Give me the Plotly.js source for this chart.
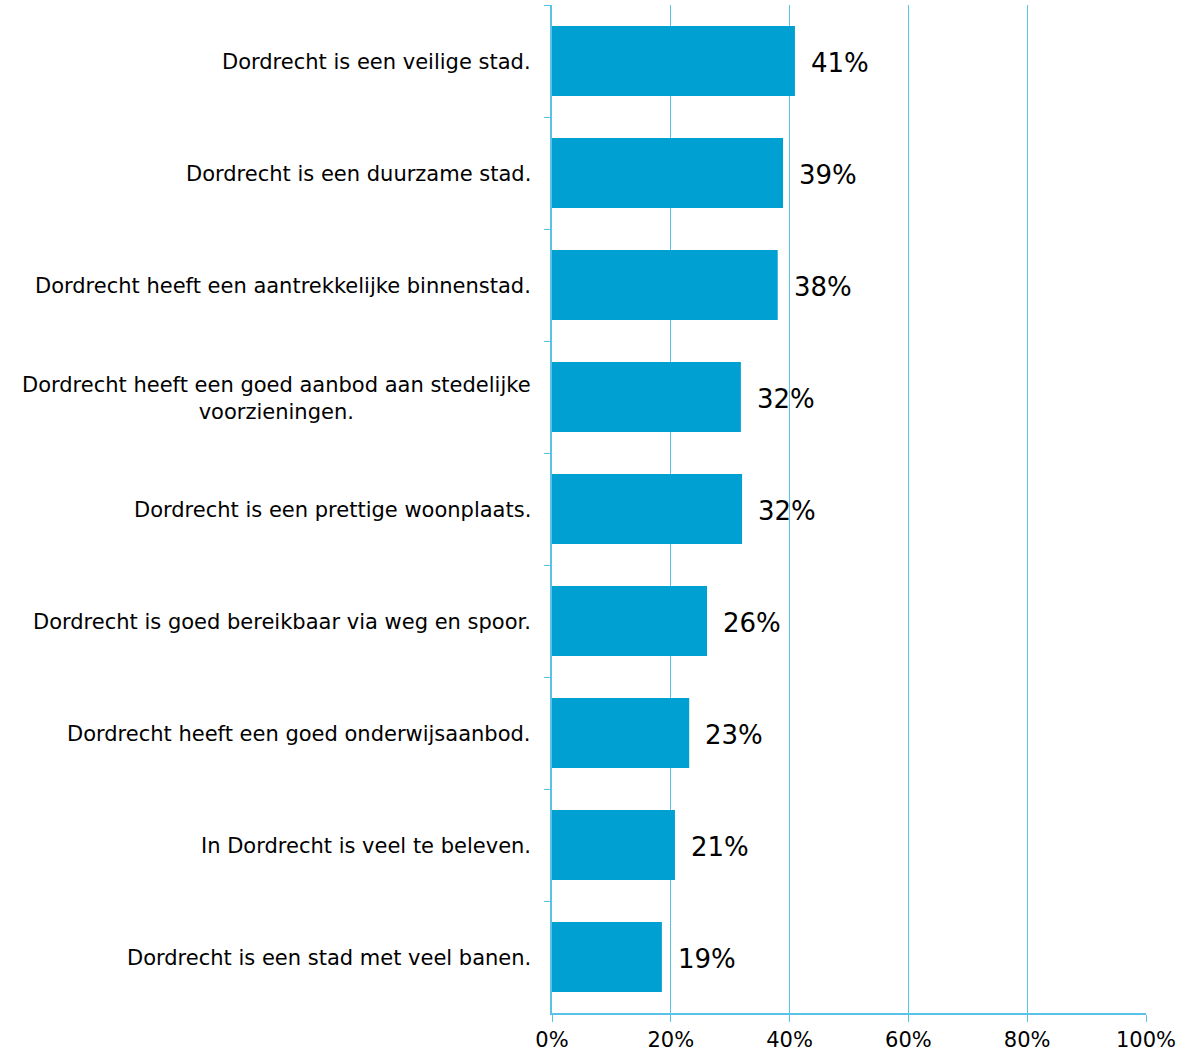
<!DOCTYPE html>
<html>
<head>
<meta charset="utf-8">
<script src="https://cdn.plot.ly/plotly-3.0.1.min.js"></script>
<style>
html,body{margin:0;padding:0;background:#fff;}
#chart{width:1196px;height:1054px;}
</style>
</head>
<body>
<div id="chart"></div>
<script>
const categories = [
  "Dordrecht is een veilige stad.",
  "Dordrecht is een duurzame stad.",
  "Dordrecht heeft een aantrekkelijke binnenstad.",
  "Dordrecht heeft een goed aanbod aan stedelijke<br>voorzieningen.",
  "Dordrecht is een prettige woonplaats.",
  "Dordrecht is goed bereikbaar via weg en spoor.",
  "Dordrecht heeft een goed onderwijsaanbod.",
  "In Dordrecht is veel te beleven.",
  "Dordrecht is een stad met veel banen."
];
const values = [40.9, 38.9, 38.0, 31.8, 32.0, 26.1, 23.1, 20.7, 18.5];
const valueLabels = ["41%", "39%", "38%", "32%", "32%", "26%", "23%", "21%", "19%"];
const xTickVals = [0, 20, 40, 60, 80, 100];
const xTickText = ["0%", "20%", "40%", "60%", "80%", "100%"];

const FONT = "DejaVu Sans, Verdana, sans-serif";
const BLUE_LINE = "#5BC2E7";

const trace = {
  type: "bar",
  orientation: "h",
  x: values,
  y: categories,
  marker: {color: "#00A1D2", line: {width: 0}},
  hoverinfo: "skip"
};

const annotations = [];
categories.forEach((c, i) => {
  annotations.push({
    x: 0, xref: "paper", y: c, yref: "y",
    xanchor: "right", yanchor: "middle", xshift: -19, yshift: -1,
    text: c, showarrow: false, align: "center",
    font: {family: FONT, size: 21, color: "#000"}
  });
  annotations.push({
    x: values[i], xref: "x", y: c, yref: "y",
    xanchor: "left", yanchor: "middle", xshift: 14, yshift: -2,
    text: valueLabels[i], showarrow: false,
    font: {family: FONT, size: 26, color: "#000"}
  });
});

const layout = {
  width: 1196, height: 1054,
  margin: {l: 552, r: 50, t: 5, b: 41, pad: 0},
  paper_bgcolor: "#fff", plot_bgcolor: "#fff",
  showlegend: false,
  bargap: 0.375,
  font: {family: FONT, color: "#000"},
  xaxis: {
    range: [0, 100], tickvals: xTickVals, ticktext: xTickText,
    showgrid: true, gridcolor: BLUE_LINE, gridwidth: 1,
    showline: true, linecolor: BLUE_LINE, linewidth: 2,
    ticks: "outside", ticklen: 7, tickcolor: BLUE_LINE, tickwidth: 1,
    tickfont: {family: FONT, size: 21, color: "#000"},
    zeroline: false, fixedrange: true
  },
  yaxis: {
    type: "category", autorange: "reversed",
    showticklabels: false, tickson: "boundaries",
    ticks: "outside", ticklen: 6, tickcolor: BLUE_LINE, tickwidth: 1,
    showline: true, linecolor: BLUE_LINE, linewidth: 2,
    showgrid: false, zeroline: false, fixedrange: true
  },
  annotations: annotations
};

Plotly.newPlot("chart", [trace], layout, {displayModeBar: false, staticPlot: true});
</script>
</body>
</html>
